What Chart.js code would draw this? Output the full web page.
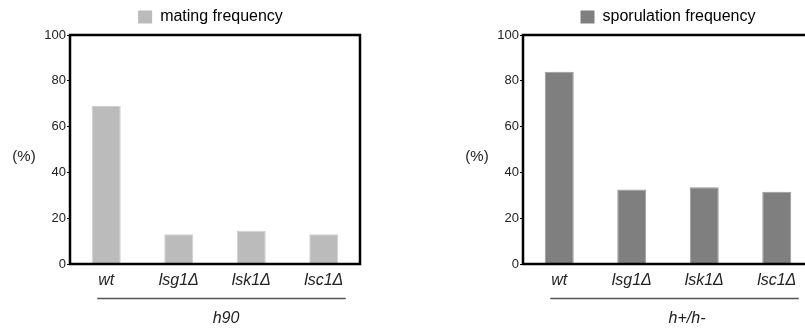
<!DOCTYPE html>
<html>
<head>
<meta charset="utf-8">
<script src="https://cdn.jsdelivr.net/npm/chart.js@4.4.0/dist/chart.umd.min.js"></script>
<style>
    html, body { margin: 0; padding: 0; background: #fff; }
    body { width: 805px; height: 330px; overflow: hidden; position: relative; }
    .panel { position: absolute; top: 0; height: 330px; }
    #mating-panel { left: 0; width: 421px; }
    #sporulation-panel { left: 453px; width: 430px; }
</style>
</head>
<body>
<div class="panel" id="mating-panel"><canvas id="mating-chart"></canvas></div>
<div class="panel" id="sporulation-panel"><canvas id="sporulation-chart"></canvas></div>
<script>
// Data
const strains = ['wt', 'lsg1Δ', 'lsk1Δ', 'lsc1Δ'];
const matingFrequency = [69, 13, 14.5, 13];
const sporulationFrequency = [84, 32.5, 33.5, 31.5];
const yTicks = [0, 20, 40, 60, 80, 100];
const unitLabel = '(%)';

const FONT = "'Liberation Sans', Arial, Helvetica, sans-serif";

// draws the frame, the (%) label and the strain group bar under the axis
const decorations = {
    id: 'decorations',
    afterDraw(chart, args, opts) {
        const { ctx, chartArea, scales } = chart;
        ctx.save();

        // black frame round the plot
        ctx.strokeStyle = '#000';
        ctx.lineWidth = 2.5;
        ctx.strokeRect(chartArea.left, chartArea.top,
            chartArea.right - chartArea.left, chartArea.bottom - chartArea.top);

        // unit label
        ctx.fillStyle = '#222';
        ctx.font = `15px ${FONT}`;
        ctx.textAlign = 'center';
        ctx.textBaseline = 'middle';
        ctx.fillText(unitLabel, chartArea.left - 46, scales.y.getPixelForValue(47));

        // group line under the categories
        const x0 = scales.x.getPixelForValue(0) - 9;
        const x1 = scales.x.getPixelForValue(strains.length - 1) + 22;
        ctx.strokeStyle = '#555';
        ctx.lineWidth = 1.5;
        ctx.beginPath();
        ctx.moveTo(x0, 298.5);
        ctx.lineTo(x1, 298.5);
        ctx.stroke();

        // group label
        const mid = (scales.x.getPixelForValue(1) + scales.x.getPixelForValue(2)) / 2;
        ctx.font = `italic 16px ${FONT}`;
        ctx.fillText(opts.group, mid + opts.shift, 319);
        ctx.restore();
    }
};

function makeChart(canvasId, label, values, color, edge, group, shift, spacerWidth) {
    const ctx = document.getElementById(canvasId).getContext('2d');
    return new Chart(ctx, {
        type: 'bar',
        data: {
            labels: strains,
            datasets: [{
                label: label,
                data: values,
                backgroundColor: color,
                borderColor: edge,
                borderWidth: 1,
                categoryPercentage: 1,
                barPercentage: 0.4
            }]
        },
        options: {
            responsive: true,
            maintainAspectRatio: false,
            animation: false,
            layout: { padding: { top: 3, right: 0, bottom: 0, left: 0 } },
            plugins: {
                tooltip: { enabled: false },
                legend: {
                    position: 'top',
                    labels: {
                        boxWidth: 14,
                        boxHeight: 13,
                        padding: 6,
                        color: '#333',
                        font: { family: FONT, size: 16 },
                        generateLabels: (chart) => [{
                            text: label,
                            fillStyle: color,
                            strokeStyle: color,
                            lineWidth: 0,
                            datasetIndex: 0
                        }]
                    }
                },
                decorations: { group: group, shift: shift }
            },
            scales: {
                x: {
                    afterFit: (scale) => { scale.height = 66; },
                    grid: { display: false, drawTicks: false },
                    border: { display: false },
                    ticks: {
                        color: '#222',
                        padding: 7,
                        font: { family: FONT, size: 16, style: 'italic' }
                    }
                },
                y: {
                    min: 0,
                    max: 100,
                    afterFit: (scale) => { scale.width = 70; },
                    afterBuildTicks: (scale) => {
                        scale.ticks = yTicks.map(v => ({ value: v }));
                    },
                    border: { display: false },
                    grid: {
                        drawOnChartArea: false,
                        drawTicks: true,
                        tickLength: 3,
                        color: '#000'
                    },
                    ticks: {
                        color: '#222',
                        padding: 1,
                        font: { family: FONT, size: 13 }
                    }
                },
                // empty right-hand axis, sets where the legend is centred
                spacer: {
                    type: 'linear',
                    position: 'right',
                    afterFit: (scale) => { scale.width = spacerWidth; },
                    grid: { display: false },
                    border: { display: false },
                    ticks: { display: false }
                }
            }
        },
        plugins: [decorations]
    });
}

document.addEventListener('DOMContentLoaded', () => {
    makeChart('mating-chart', 'mating frequency', matingFrequency,
        '#bbbbbb', '#cfcfcf', 'h90', 11, 61);
    makeChart('sporulation-chart', 'sporulation frequency', sporulationFrequency,
        '#7f7f7f', '#9a9a9a', 'h+/h-', 19, 70);
});
</script>
</body>
</html>
